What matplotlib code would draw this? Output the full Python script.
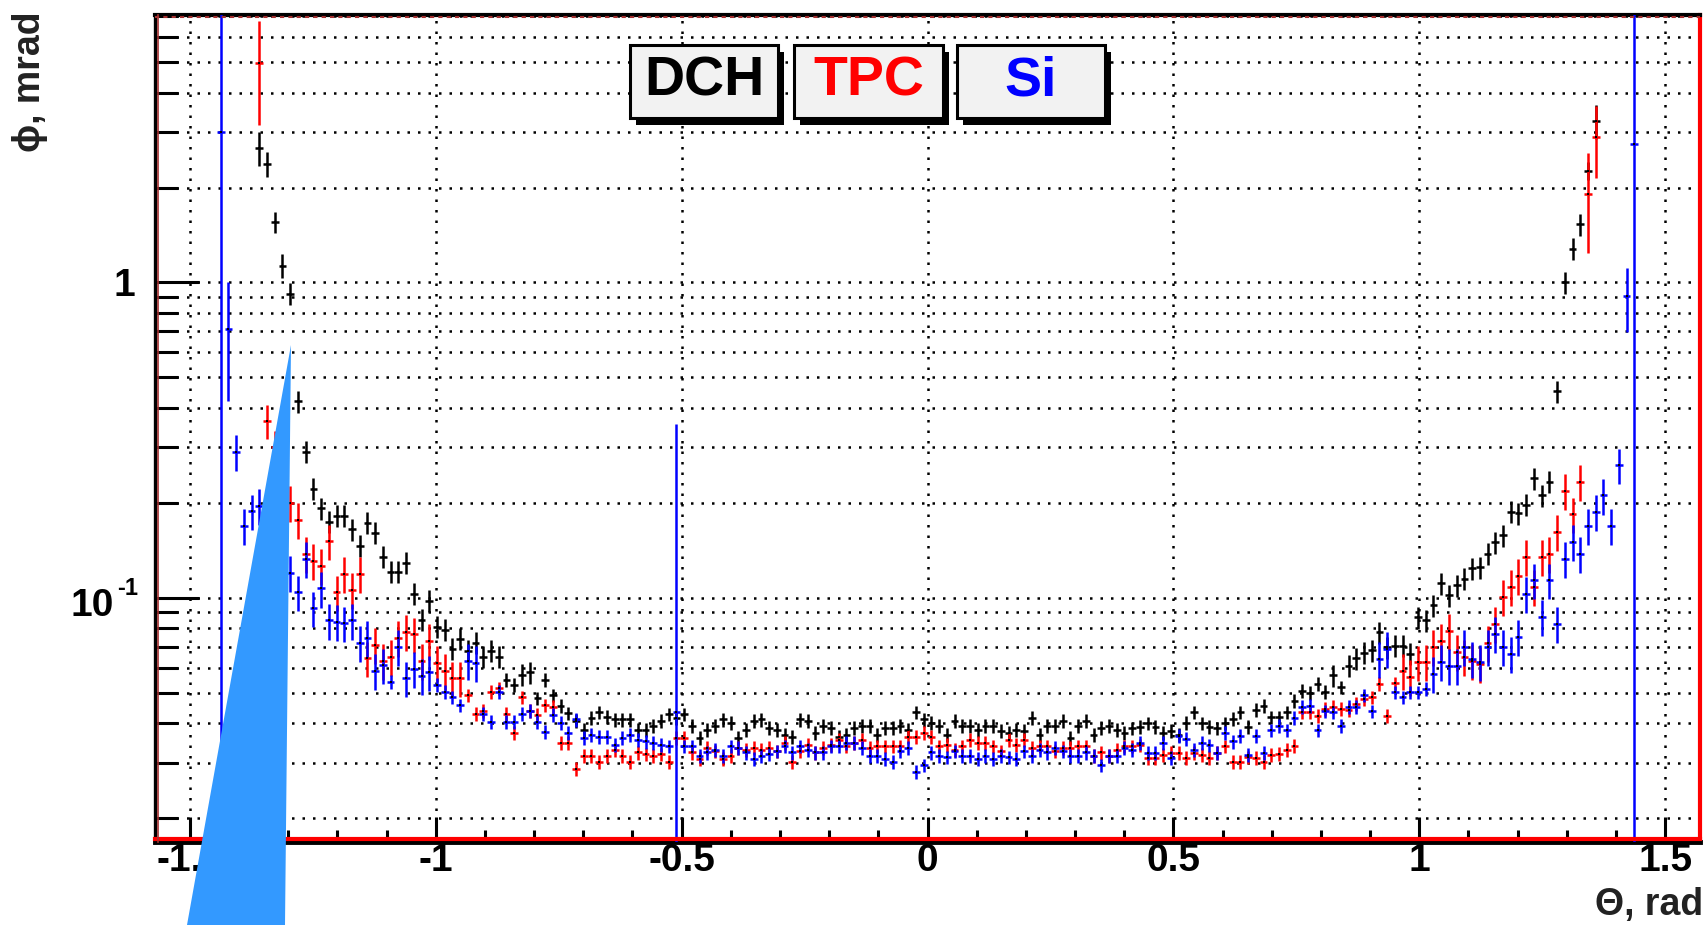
import numpy as np
import matplotlib
matplotlib.use('Agg')
import matplotlib.pyplot as plt
from matplotlib.patches import Polygon, Rectangle
from matplotlib.ticker import FixedLocator, MultipleLocator, FuncFormatter, NullFormatter
from matplotlib.transforms import blended_transform_factory, offset_copy

plt.rcParams['font.family'] = ['Liberation Sans', 'DejaVu Sans']
plt.rcParams['font.weight'] = 'bold'
plt.rcParams['axes.unicode_minus'] = False

# 200 bins over [-pi/2, pi/2]
n_bins = 200
edges = np.linspace(-np.pi / 2, np.pi / 2, n_bins + 1)
centers = 0.5 * (edges[1:] + edges[:-1])
half_w = 0.5 * (edges[1] - edges[0])

# DCH (black), first filled bin = 13
dch_first = 13
dch_values = [
    2.67, 2.38, 1.55, 1.13, 0.92, 0.42, 0.29, 0.222, 0.192, 0.174,
    0.182, 0.182, 0.165, 0.146, 0.173, 0.161, 0.135, 0.121, 0.121, 0.129,
    0.103, 0.085, 0.098, 0.081, 0.079, 0.069, 0.074, 0.068, 0.072, 0.065,
    0.068, 0.065, 0.055, 0.053, 0.057, 0.058, 0.048, 0.055, 0.049, 0.0455,
    0.043, 0.0406, 0.0382, 0.0417, 0.0433, 0.042, 0.0411, 0.0411, 0.0411, 0.0382,
    0.0382, 0.0392, 0.0406, 0.0427, 0.0417, 0.0427, 0.0392, 0.0359, 0.0382, 0.0392,
    0.0411, 0.0401, 0.0359, 0.0382, 0.0406, 0.0411, 0.0386, 0.0382, 0.0368, 0.0363,
    0.0411, 0.0406, 0.0373, 0.0392, 0.0386, 0.0363, 0.0368, 0.0386, 0.0392, 0.0392,
    0.0368, 0.0386, 0.0386, 0.0392, 0.0382, 0.0433, 0.0411, 0.0401, 0.0392, 0.0368,
    0.0406, 0.0392, 0.0392, 0.0382, 0.0392, 0.0392, 0.0378, 0.0373, 0.0382, 0.0378,
    0.0417, 0.0368, 0.0392, 0.0392, 0.0406, 0.0359, 0.0392, 0.0406, 0.0368, 0.0386,
    0.0392, 0.0382, 0.0373, 0.0385, 0.039, 0.040, 0.039, 0.0373, 0.0378, 0.0368,
    0.0401, 0.0433, 0.040, 0.039, 0.0385, 0.040, 0.0412, 0.0433, 0.039, 0.044,
    0.0455, 0.0418, 0.0418, 0.0433, 0.047, 0.0507, 0.050, 0.0532, 0.0503, 0.0568,
    0.052, 0.0609, 0.0643, 0.0668, 0.0681, 0.0778, 0.0697, 0.0705, 0.0705, 0.0663,
    0.0868, 0.0847, 0.0946, 0.111, 0.1017, 0.1095, 0.115, 0.124, 0.125, 0.138,
    0.150, 0.158, 0.187, 0.185, 0.197, 0.239, 0.211, 0.233, 0.451, 1.0,
    1.28, 1.53, 2.26, 3.26,
]
dch_big_err = {13: 0.33, 14: 0.22, 15: 0.12, 16: 0.1, 185: 0.15, 186: 0.4}

# TPC (red), first filled bin = 13
tpc_first = 13
tpc_values = [
    4.96, 0.363, 0.30, 0.24, 0.20, 0.177, 0.138, 0.131, 0.126, 0.151,
    0.104, 0.119, 0.106, 0.119, 0.0642, 0.071, 0.063, 0.065, 0.0745, 0.078,
    0.0765, 0.063, 0.073, 0.062, 0.0586, 0.0555, 0.0555, 0.049, 0.0428, 0.0438,
    0.0503, 0.0516, 0.0428, 0.0373, 0.0483, 0.0438, 0.0426, 0.0456, 0.045, 0.0346,
    0.0346, 0.0287, 0.0315, 0.0315, 0.0301, 0.0315, 0.033, 0.0315, 0.0301, 0.0323,
    0.0319, 0.0315, 0.0319, 0.0301, 0.0359, 0.0359, 0.0323, 0.0308, 0.0334, 0.0326,
    0.0308, 0.0315, 0.0334, 0.033, 0.0334, 0.033, 0.0334, 0.0326, 0.0346, 0.0301,
    0.0326, 0.0342, 0.0323, 0.0334, 0.0342, 0.0355, 0.0338, 0.0346, 0.0355, 0.0334,
    0.0338, 0.0338, 0.0338, 0.0338, 0.0363, 0.0363, 0.0373, 0.0363, 0.0338, 0.0342,
    0.033, 0.0338, 0.0355, 0.0346, 0.0346, 0.0338, 0.0326, 0.0355, 0.0342, 0.0355,
    0.0334, 0.0338, 0.0338, 0.0326, 0.0334, 0.0334, 0.0338, 0.0338, 0.0315, 0.0323,
    0.0315, 0.033, 0.0338, 0.0338, 0.034, 0.031, 0.031, 0.0318, 0.0322, 0.0322,
    0.031, 0.0322, 0.0318, 0.031, 0.0322, 0.0338, 0.0302, 0.0302, 0.0312, 0.031,
    0.0302, 0.0318, 0.032, 0.033, 0.0339, 0.0433, 0.0433, 0.0422, 0.0445, 0.045,
    0.0445, 0.044, 0.046, 0.0476, 0.0483, 0.0534, 0.0422, 0.0535, 0.0587, 0.056,
    0.0624, 0.0625, 0.0697, 0.073, 0.0787, 0.0675, 0.065, 0.063, 0.0616, 0.072,
    0.0827, 0.1007, 0.108, 0.1175, 0.135, 0.108, 0.135, 0.138, 0.162, 0.218,
    0.184, 0.233, 1.91, 2.89,
]
tpc_big_err = {13: 1.8, 14: 0.045, 185: 0.67, 186: 0.75}

# Si (blue), first filled bin = 8
si_first = 8
si_values = [
    3.0, 0.71, 0.29, 0.169, 0.188, 0.196, 0.17, 0.15, 0.14, 0.12,
    0.104, 0.133, 0.0925, 0.107, 0.0847, 0.084, 0.083, 0.0847, 0.072, 0.0745,
    0.0586, 0.061, 0.0542, 0.0697, 0.0555, 0.0596, 0.0566, 0.058, 0.0529, 0.0503,
    0.0483, 0.0456, 0.063, 0.0622, 0.0428, 0.0405, 0.0503, 0.0405, 0.0405, 0.0428,
    0.0438, 0.0405, 0.0375, 0.0426, 0.0401, 0.0373, 0.0411, 0.0359, 0.0368, 0.0363,
    0.0363, 0.0342, 0.0359, 0.0368, 0.0355, 0.035, 0.0346, 0.0342, 0.0338, 0.0433,
    0.0338, 0.0338, 0.0315, 0.0323, 0.033, 0.0315, 0.0338, 0.0334, 0.0323, 0.0308,
    0.0315, 0.0319, 0.0326, 0.0338, 0.0323, 0.0338, 0.033, 0.0323, 0.0323, 0.0338,
    0.0338, 0.0346, 0.0346, 0.0334, 0.0315, 0.0315, 0.0308, 0.0301, 0.0326, 0.0334,
    0.028, 0.0294, 0.0323, 0.0315, 0.0312, 0.0326, 0.0315, 0.0315, 0.0308, 0.0315,
    0.0308, 0.0315, 0.0312, 0.0308, 0.0326, 0.0315, 0.033, 0.0323, 0.0334, 0.0326,
    0.0315, 0.0315, 0.0323, 0.0315, 0.0294, 0.0315, 0.0315, 0.0334, 0.033, 0.0347,
    0.0322, 0.0322, 0.0347, 0.031, 0.0364, 0.0357, 0.033, 0.0347, 0.034, 0.0322,
    0.0373, 0.035, 0.0365, 0.0318, 0.0365, 0.0322, 0.038, 0.0392, 0.038, 0.0417,
    0.045, 0.0455, 0.038, 0.0436, 0.0433, 0.0392, 0.045, 0.045, 0.049, 0.0436,
    0.064, 0.069, 0.0501, 0.0483, 0.0501, 0.0501, 0.0513, 0.0573, 0.0625, 0.0609,
    0.0609, 0.0697, 0.064, 0.0625, 0.0697, 0.0768, 0.0697, 0.0663, 0.075, 0.103,
    0.1136, 0.0868, 0.1136, 0.0826, 0.133, 0.15, 0.138, 0.169, 0.187, 0.211,
    0.169, 0.263, 0.905, 2.75,
]
si_big_err = {8: 5.0, 9: 0.29, 67: 0.313, 190: 0.21, 191: 5.0}

W, H = 1703, 925


def px(x, y):
    # pixel (from top-left) -> figure fraction
    return x / W, 1 - y / H


def draw_series(ax, first, values, color, rel_flat, rel_edge, big_err):
    v = np.array(values)
    idx = np.arange(first, first + len(v))
    x = centers[idx]
    err = np.where(v > 0.055, rel_edge, rel_flat) * v
    for k, e in big_err.items():
        err[k - first] = e
    lower = np.minimum(err, v - 1e-4)
    ax.errorbar(x, v, xerr=half_w, yerr=[lower, err], fmt='none', ecolor=color,
                elinewidth=1.8, capsize=0, zorder=3)
    ax.plot(x, v, 's', color='black', ms=1.8, mew=0, zorder=4)


fig = plt.figure(figsize=(W / 100, H / 100), dpi=100)
x0, y0 = px(155, 842)
x1, y1 = px(1700, 15)
ax = fig.add_axes([x0, y0, x1 - x0, y1 - y0])
ax.set_yscale('log')
ax.set_xlim(-np.pi / 2, np.pi / 2)
ax.set_ylim(0.0168, 7.05)

draw_series(ax, dch_first, dch_values, 'black', 0.05, 0.08, dch_big_err)
draw_series(ax, tpc_first, tpc_values, '#ff0000', 0.05, 0.13, tpc_big_err)
draw_series(ax, si_first, si_values, '#0000ff', 0.05, 0.13, si_big_err)

# ticks
ax.xaxis.set_major_locator(MultipleLocator(0.5))
ax.xaxis.set_minor_locator(MultipleLocator(0.1))
ax.xaxis.set_major_formatter(FuncFormatter(lambda v, p: f'{v:g}'))
ax.yaxis.set_major_locator(FixedLocator([0.1, 1]))
ax.yaxis.set_minor_locator(FixedLocator([0.02, 0.03, 0.04, 0.05, 0.06, 0.07, 0.08, 0.09,
                                         0.2, 0.3, 0.4, 0.5, 0.6, 0.7, 0.8, 0.9,
                                         2, 3, 4, 5, 6, 7]))
ax.yaxis.set_major_formatter(NullFormatter())
ax.yaxis.set_minor_formatter(NullFormatter())

ax.tick_params(axis='y', which='major', direction='in', length=32, width=2.2,
               left=True, right=False)
ax.tick_params(axis='y', which='minor', direction='in', length=16.5, width=2.2,
               left=True, right=False)
ax.tick_params(axis='x', which='major', direction='in', length=18, width=2.2,
               labelsize=28, pad=1, bottom=True, top=False)
ax.tick_params(axis='x', which='minor', direction='in', length=9, width=2.2,
               bottom=True, top=False)

# ROOT-style y labels: "1" and "10" with a small "-1" exponent
ytrans = blended_transform_factory(ax.transAxes, ax.transData)
ax.text(0, 1, '1', fontsize=28, ha='right', va='center_baseline',
        transform=offset_copy(ytrans, fig=fig, x=-20, y=0, units='dots'))
ax.text(0, 0.1, '10', fontsize=28, ha='right', va='center_baseline',
        transform=offset_copy(ytrans, fig=fig, x=-41, y=-4, units='dots'))
ax.text(0, 0.1, '-1', fontsize=17, ha='right', va='center_baseline',
        transform=offset_copy(ytrans, fig=fig, x=-17, y=12, units='dots'))

# dotted grid
ax.set_axisbelow(True)
ax.grid(True, which='major', axis='x', color='black', lw=1.8, ls=(0, (1, 3.2)))
ax.grid(True, which='both', axis='y', color='black', lw=1.8, ls=(0, (1, 3.2)))

# frame
ax.spines['left'].set_linewidth(2.4)
ax.spines['top'].set_linewidth(3)
ax.spines['bottom'].set_linewidth(3.5)
ax.spines['right'].set_color('#ff0000')
ax.spines['right'].set_linewidth(3)
ax.plot([0, 1], [0.004, 0.004], transform=ax.transAxes, color='#ff0000', lw=3,
        clip_on=False, zorder=5)
ax.plot([0.0017, 0.0017], [0, 1], transform=ax.transAxes, color='#a33030', lw=1.2,
        clip_on=False, zorder=5)
ax.plot([0, 1], [0.9975, 0.9975], transform=ax.transAxes, color='#a33030', lw=1.5,
        ls=(0, (2, 2)), clip_on=False, zorder=5)

# axis titles
fig.text(1703 / W, 1 - 905 / H, 'Θ, rad', fontsize=27, ha='right', va='center',
         color='#222222')
fig.text(30 / W, 1 - 12 / H, 'ϕ, mrad', fontsize=27, ha='center', va='top', rotation=90,
         color='#222222')

# legend boxes
boxes = [('DCH', 'black', 630, 778), ('TPC', '#ff0000', 794, 943), ('Si', '#0000ff', 957, 1105)]
for label, col, bx0, bx1 in boxes:
    sx, sy = px(bx0 + 6, 118 + 7)
    fig.add_artist(Rectangle((sx, sy), (bx1 - bx0) / W, 73 / H, transform=fig.transFigure,
                             facecolor='black', edgecolor='none', zorder=6))
    rx, ry = px(bx0, 118)
    fig.add_artist(Rectangle((rx, ry), (bx1 - bx0) / W, 73 / H, transform=fig.transFigure,
                             facecolor='#f2f2f2', edgecolor='black', lw=2.2, zorder=7))
    cx, cy = px((bx0 + bx1) / 2, 82)
    fig.text(cx, cy, label, color=col, fontsize=40, ha='center', va='center', zorder=8)

# light blue wedge overlay
tri = [px(291, 345), px(187, 925), px(285, 925)]
fig.add_artist(Polygon(tri, closed=True, transform=fig.transFigure, facecolor='#3399ff',
                       edgecolor='none', zorder=20))

fig.savefig('out.png', dpi=100)
